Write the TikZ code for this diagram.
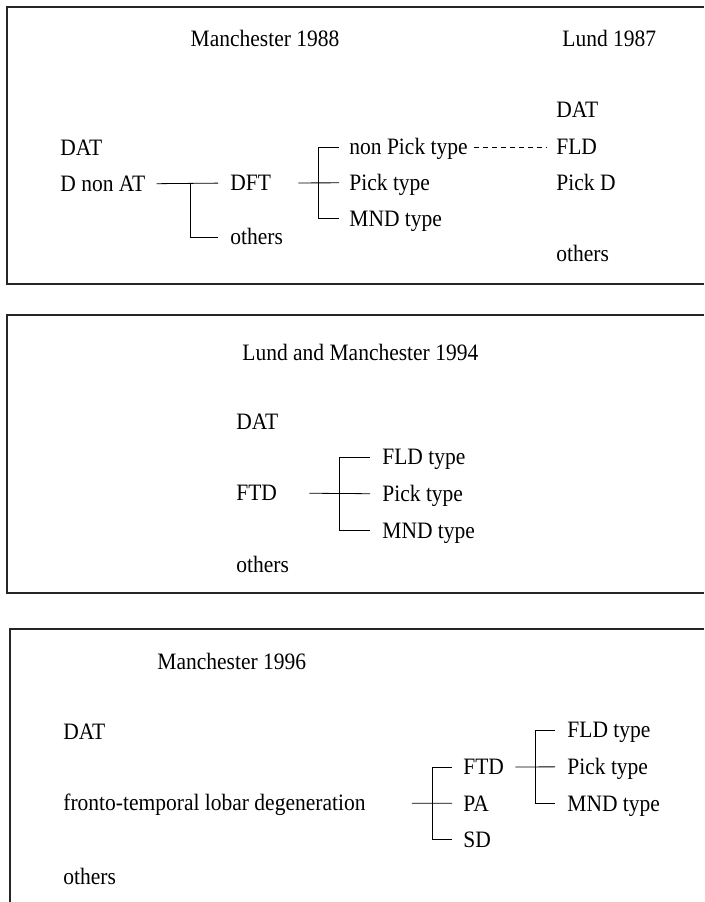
\documentclass[tikz,border=0pt]{standalone}
\usepackage{fontspec}
\setmainfont{Liberation Serif}[FakeStretch=0.915]
\usetikzlibrary{positioning}

\begin{document}
\begin{tikzpicture}[x=1pt, y=-1pt, line width=0.8pt,
    lbl/.style={anchor=west, inner sep=0pt, text height=15.5pt, text depth=0pt,
        font=\fontsize{23.5}{28}\selectfont},
    frame/.style={line width=1.2pt, draw=black!85},
    dots/.style={dash pattern=on 5pt off 4pt}]
    \useasboundingbox (0,0) rectangle (704,902);

    \draw[frame] (704,7) -| (7,284) -- (704,284);
    \draw[frame] (704,315) -| (7,593) -- (704,593);
    \draw[frame] (704,629) -| (10,902);

    \node(M88)[lbl, anchor=center] at (265,39) {Manchester 1988};
    \node(L87)[lbl] at (562,39) {Lund 1987};
    \node(DAT1)[lbl] at (60,148) {DAT};
    \node(DnAT)[lbl, below=19.5pt of DAT1.south west, anchor=north west] {D non AT};
    \node(DFT)[lbl] at (230,183) {DFT};
    \node(Oth1)[lbl] at (230,237) {others};
    \node(NPick)[lbl] at (349,147) {non Pick type};
    \node(Pick1)[lbl, below=19.5pt of NPick.south west, anchor=north west] {Pick type};
    \node(MND1)[lbl, below=19.5pt of Pick1.south west, anchor=north west] {MND type};
    \node(DATL)[lbl] at (556,110) {DAT};
    \node(FLD)[lbl] at (556,147) {FLD};
    \node(PickD)[lbl, below=19.5pt of FLD.south west, anchor=north west] {Pick D};
    \node(OthL)[lbl] at (556,254) {others};
    \coordinate(J1) at (190,183);
    \coordinate(J2) at (318,183);

    \draw[shorten <=11pt, shorten >=12pt] (DnAT.east) -- (DFT.west);
    \draw[shorten >=12pt] (J1) |- (Oth1.west);
    \draw[shorten <=27pt, shorten >=10pt] (DFT.east) -- (Pick1.west);
    \draw[shorten >=10pt] (J2) |- (NPick.west);
    \draw[shorten >=10pt] (J2) |- (MND1.west);
    \draw[dots, shorten <=6pt, shorten >=9pt] (NPick.east) -- (FLD.west);

    \node(LM94)[lbl] at (242,353) {Lund and Manchester 1994};
    \node(DAT2)[lbl] at (236,422) {DAT};
    \node(FTD2)[lbl] at (236,493) {FTD};
    \node(Oth2)[lbl] at (236,565) {others};
    \node(FLD2)[lbl] at (382,457) {FLD type};
    \node(Pick2)[lbl, below=20.5pt of FLD2.south west, anchor=north west] {Pick type};
    \node(MND2)[lbl, below=20.5pt of Pick2.south west, anchor=north west] {MND type};
    \coordinate(J3) at (339,493);

    \draw[shorten <=32pt, shorten >=12pt] (FTD2.east) -- (Pick2.west);
    \draw[shorten >=12pt] (J3) |- (FLD2.west);
    \draw[shorten >=12pt] (J3) |- (MND2.west);

    \node(M96)[lbl] at (157,662) {Manchester 1996};
    \node(DAT3)[lbl] at (63,732) {DAT};
    \node(FTLD)[lbl] at (63,803) {fronto-temporal lobar degeneration};
    \node(Oth3)[lbl] at (63,877) {others};
    \node(FTD3)[lbl] at (463,767) {FTD};
    \node(PA)[lbl, below=20pt of FTD3.south west, anchor=north west] {PA};
    \node(SD)[lbl, below=20pt of PA.south west, anchor=north west] {SD};
    \node(FLD3)[lbl] at (567,730) {FLD type};
    \node(Pick3)[lbl, below=20.5pt of FLD3.south west, anchor=north west] {Pick type};
    \node(MND3)[lbl, below=20.5pt of Pick3.south west, anchor=north west] {MND type};
    \coordinate(J4) at (432,802);
    \coordinate(J5) at (535,766);

    \draw[shorten <=46pt, shorten >=11pt] (FTLD.east) -- (PA.west);
    \draw[shorten >=11pt] (J4) |- (FTD3.west);
    \draw[shorten >=11pt] (J4) |- (SD.west);
    \draw[shorten <=11pt, shorten >=12pt] (FTD3.east) -- (Pick3.west);
    \draw[shorten >=12pt] (J5) |- (FLD3.west);
    \draw[shorten >=12pt] (J5) |- (MND3.west);
\end{tikzpicture}
\end{document}
